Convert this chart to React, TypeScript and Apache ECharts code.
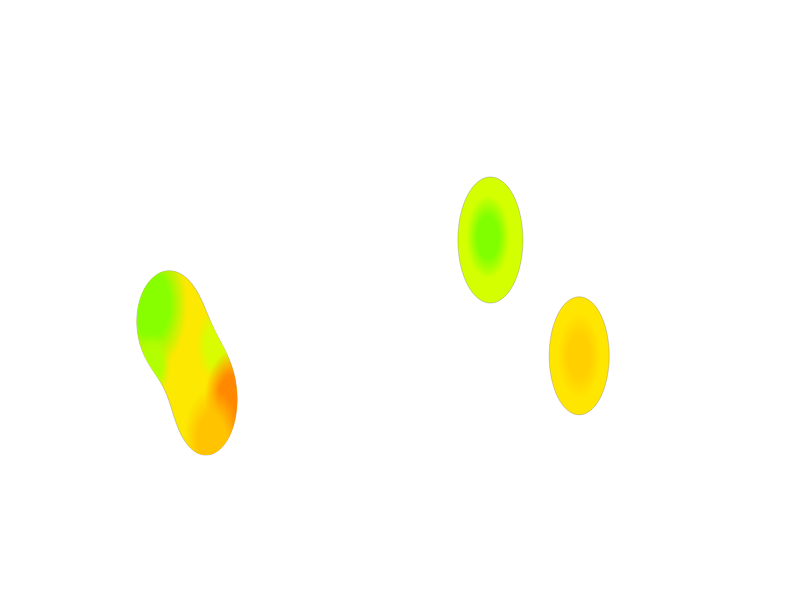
import React, { useEffect, useRef } from 'react';
import * as echarts from 'echarts';

// Blobs (groups of lobes)
const blobNames = ['West', 'North', 'South'];
const blobBaseValue = [0.48, 0.25, 0.5];

// Lobes: centre and radii in axis units
const lobeBlob = [0, 0, 1, 2];
const lobeX = [21.12, 25.75, 61.3, 72.4];
const lobeY = [46.5, 33.33, 60.0, 40.7];
const lobeRx = [4.0, 3.88, 4.06, 3.75];
const lobeRy = [8.33, 9.17, 10.5, 9.83];

// Intensity spots inside each blob
const spotBlob = [0, 0, 0, 0, 0, 1, 2];
const spotX = [19.0, 27.0, 19.1, 29.0, 26.5, 61.0, 72.4];
const spotY = [49.2, 42.5, 39.2, 33.3, 26.7, 60.5, 40.7];
const spotR = [4.4, 2.5, 2.2, 3.4, 3.5, 2.7, 2.7];
const spotValue = [0.02, 0.28, 0.15, 1.0, 0.74, 0.0, 0.68];

// Colour scale
const paletteStops = [0, 0.25, 0.5, 0.7, 1];
const paletteColors = ['#80ff00', '#d4ff00', '#ffe600', '#ffcc00', '#ff8800'];

function hexToRgb(h: string): number[] {
  const n = parseInt(h.slice(1), 16);
  return [(n >> 16) & 255, (n >> 8) & 255, n & 255];
}

function colorAt(v: number, a = 1): string {
  const t = Math.max(0, Math.min(1, v));
  let i = 0;
  while (i < paletteStops.length - 2 && t > paletteStops[i + 1]) i++;
  const f = (t - paletteStops[i]) / (paletteStops[i + 1] - paletteStops[i]);
  const c0 = hexToRgb(paletteColors[i]);
  const c1 = hexToRgb(paletteColors[i + 1]);
  const c = c0.map((x, k) => Math.round(x + (c1[k] - x) * f));
  return `rgba(${c[0]},${c[1]},${c[2]},${a})`;
}

type Lobe = { cx: number; cy: number; rx: number; ry: number };

function field(lobes: Lobe[], x: number, y: number): number {
  let s = 0;
  for (const l of lobes) {
    const dx = (x - l.cx) / l.rx;
    const dy = (y - l.cy) / l.ry;
    s += Math.exp(-0.8 * (dx * dx + dy * dy - 1));
  }
  return s;
}

function contour(lobes: Lobe[]): number[][] {
  let mx = 0, my = 0;
  lobes.forEach((l) => { mx += l.cx; my += l.cy; });
  mx /= lobes.length; my /= lobes.length;
  const pts: number[][] = [];
  const N = 360;
  for (let k = 0; k < N; k++) {
    const th = (k / N) * Math.PI * 2;
    const ux = Math.cos(th), uy = Math.sin(th);
    let r0 = 0, r1 = 0;
    for (let r = 0; r < 600; r += 1) {
      if (field(lobes, mx + ux * r, my + uy * r) < 1) { r1 = r; break; }
      r0 = r;
    }
    for (let it = 0; it < 20; it++) {
      const m = (r0 + r1) / 2;
      if (field(lobes, mx + ux * m, my + uy * m) >= 1) r0 = m; else r1 = m;
    }
    const r = (r0 + r1) / 2;
    pts.push([mx + ux * r, my + uy * r]);
  }
  return pts;
}

export default function App() {
  const ref = useRef<HTMLDivElement>(null);
  useEffect(() => {
    document.body.style.margin = '0';
    if (!ref.current) return;
    const chart = echarts.init(ref.current, undefined, { renderer: 'svg' });
    const data = blobNames.map((name, b) => {
      const first = lobeBlob.indexOf(b);
      return { name, value: [lobeX[first], lobeY[first], b] };
    });
    chart.setOption({
      animation: false,
      backgroundColor: '#ffffff',
      grid: { left: 0, right: 0, top: 0, bottom: 0 },
      xAxis: { type: 'value', min: 0, max: 100, show: false },
      yAxis: { type: 'value', min: 0, max: 100, show: false },
      series: [
        {
          type: 'custom',
          data,
          encode: { x: 0, y: 1 },
          renderItem: (params: any, api: any) => {
            const b = api.value(2) as number;
            const lobes: Lobe[] = [];
            lobeBlob.forEach((lb, i) => {
              if (lb !== b) return;
              const c = api.coord([lobeX[i], lobeY[i]]);
              const s = api.size([lobeRx[i], lobeRy[i]], [lobeX[i], lobeY[i]]);
              lobes.push({ cx: c[0], cy: c[1], rx: s[0], ry: s[1] });
            });
            const pts = contour(lobes);
            let x0 = Infinity, x1 = -Infinity, y0 = Infinity, y1 = -Infinity;
            pts.forEach(([x, y]) => {
              x0 = Math.min(x0, x); x1 = Math.max(x1, x);
              y0 = Math.min(y0, y); y1 = Math.max(y1, y);
            });
            const w = x1 - x0, h = y1 - y0;
            const children: any[] = [
              {
                type: 'polygon',
                shape: { points: pts },
                style: {
                  fill: colorAt(blobBaseValue[b]),
                  stroke: 'rgba(70,55,120,0.35)',
                  lineWidth: 0.7,
                },
              },
            ];
            spotBlob.forEach((sb, i) => {
              if (sb !== b) return;
              const c = api.coord([spotX[i], spotY[i]]);
              const rs = api.size([spotR[i], spotR[i]], [spotX[i], spotY[i]]);
              const fx = (c[0] - x0) / w;
              const fy = (c[1] - y0) / h;
              const fr = rs[0] / w;
              children.push({
                type: 'polygon',
                shape: { points: pts },
                style: {
                  fill: new echarts.graphic.RadialGradient(fx, fy, fr, [
                    { offset: 0, color: colorAt(spotValue[i], 1) },
                    { offset: 0.5, color: colorAt(spotValue[i], 1) },
                    { offset: 1, color: colorAt(spotValue[i], 0) },
                  ]),
                },
              });
            });
            return { type: 'group', children };
          },
        },
      ],
    });
    return () => chart.dispose();
  }, []);
  return <div ref={ref} style={{ width: 800, height: 600 }} />;
}
